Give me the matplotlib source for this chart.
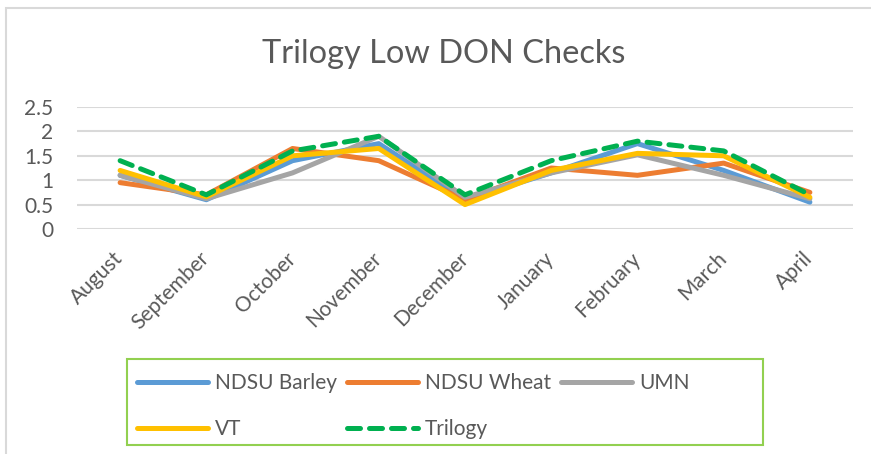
import matplotlib
matplotlib.use("Agg")
import matplotlib.pyplot as plt
from matplotlib.patches import Rectangle

plt.rcParams['font.family'] = ['Lato', 'DejaVu Sans']

months = ["August", "September", "October", "November", "December",
          "January", "February", "March", "April"]

ndsu_barley = [1.10, 0.60, 1.40, 1.75, 0.60, 1.15, 1.75, 1.20, 0.55]
ndsu_wheat = [0.95, 0.70, 1.65, 1.40, 0.60, 1.25, 1.10, 1.35, 0.75]
umn = [1.10, 0.62, 1.15, 1.90, 0.65, 1.15, 1.52, 1.10, 0.62]
vt = [1.20, 0.66, 1.50, 1.65, 0.50, 1.20, 1.55, 1.50, 0.65]
trilogy = [1.40, 0.70, 1.60, 1.90, 0.70, 1.40, 1.80, 1.60, 0.70]

text_col = "#595959"
W, H = 871, 454

fig = plt.figure(figsize=(W / 100, H / 100), dpi=100)

# outer chart border (light gray, runs off right/bottom edge)
fig.patches.append(Rectangle((6 / W, -0.1), 1.0, (H - 8) / H + 0.1,
                             transform=fig.transFigure, fill=False,
                             edgecolor="#D9D9D9", linewidth=1.5))

ax = fig.add_axes([77 / W, (H - 229) / H, 776 / W, 122 / H])
x = list(range(len(months)))

ax.plot(x, ndsu_barley, color="#5B9BD5", lw=3.6, label="NDSU Barley", solid_capstyle="round")
ax.plot(x, ndsu_wheat, color="#ED7D31", lw=3.6, label="NDSU Wheat", solid_capstyle="round")
ax.plot(x, umn, color="#A5A5A5", lw=3.6, label="UMN", solid_capstyle="round")
ax.plot(x, vt, color="#FFC000", lw=3.6, label="VT", solid_capstyle="round")
ax.plot(x, trilogy, color="#00B050", lw=3.6, ls=(0, (2.6, 1.8)), label="Trilogy",
        dash_capstyle="round")

ax.set_xlim(-0.5, len(months) - 0.5)
ax.set_ylim(0, 2.5)
ax.set_yticks([0, 0.5, 1, 1.5, 2, 2.5])
ax.set_yticklabels(["0", "0.5", "1", "1.5", "2", "2.5"])
ax.grid(axis="y", color="#D9D9D9", lw=1.5)
ax.set_axisbelow(True)
for s in ax.spines.values():
    s.set_visible(False)
ax.tick_params(axis="y", length=0, pad=17, labelsize=15, labelcolor=text_col)
ax.tick_params(axis="x", length=0, pad=19, labelsize=15, labelcolor=text_col)
ax.set_xticks(x)
ax.set_xticklabels(months, rotation=45, ha="right", va="center", rotation_mode="anchor")

fig.text(444 / W, (H - 63) / H, "Trilogy Low DON Checks", ha="center", va="baseline",
         fontsize=23.4, color=text_col)

# legend box
fig.patches.append(Rectangle((127 / W, (H - 445) / H), 636 / W, 86 / H,
                             transform=fig.transFigure, fill=False,
                             edgecolor="#92D050", linewidth=1.5))
h, l = ax.get_legend_handles_labels()
order = [0, 3, 1, 4, 2]
leg = fig.legend([h[i] for i in order], [l[i] for i in order], ncol=3,
                 loc="upper left", bbox_to_anchor=(137 / W, (H - 373) / H),
                 frameon=False, fontsize=15, handlelength=3.4, handletextpad=0.33,
                 columnspacing=0.5, labelspacing=1.25, borderaxespad=0, borderpad=0)
for t in leg.get_texts():
    t.set_color(text_col)

fig.savefig("out.png", dpi=100)
